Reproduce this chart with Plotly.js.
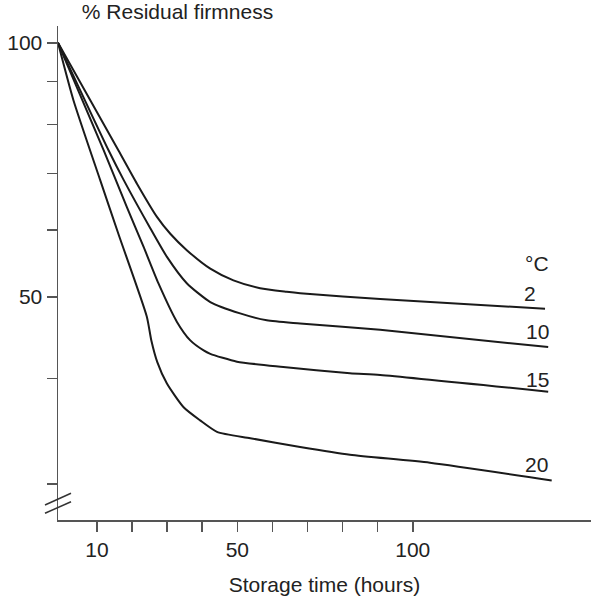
<!DOCTYPE html>
<html><head><meta charset="utf-8">
<script src="https://cdn.plot.ly/plotly-3.0.1.min.js"></script>
<style>html,body{margin:0;padding:0;background:#fff}#chart{width:591px;height:599px}</style>
</head><body><div id="chart"></div>
<script>
// ---- data (storage time in hours, % residual firmness) ----
const seriesLabels = ['2', '10', '15', '20'];
const unitLabel = '°C';

const time2  = [-1.1, 16.1, 21.4, 27.1, 30.9, 35.6, 42.3, 48.9, 56.5, 64.1, 67.9, 90.7, 137.7];
const firm2  = [100, 74.6, 68.1, 62.2, 59.4, 56.8, 54.0, 52.3, 51.2, 50.7, 50.5, 49.7, 48.4];

const time10 = [-1.1, 13.3, 17.6, 25.2, 29.9, 35.6, 42.3, 50.8, 58.4, 67.9, 90.7, 138.6];
const firm10 = [100, 74.6, 68.8, 60.3, 55.8, 51.9, 49.3, 47.8, 46.9, 46.5, 45.7, 43.6];

const time15 = [-1.1, 11.9, 18.5, 23.3, 27.5, 32.8, 36.6, 40.4, 42.3, 49.9, 63.1, 82.1, 90.7, 138.6];
const firm15 = [100, 74.6, 63.9, 57.3, 51.9, 46.7, 44.4, 43.2, 42.8, 41.9, 41.3, 40.6, 40.4, 38.6];

const time20 = [-1.1, 3.3, 10.9, 16.1, 24.2, 25.5, 27.2, 29.9, 34.7, 39.4, 44.2, 53.7, 67.9, 82.1, 104.9, 139.6];
const firm20 = [100, 85.5, 68.8, 59.4, 47.4, 44.4, 41.85, 39.5, 37.0, 35.7, 34.6, 34.0, 33.2, 32.5, 31.8, 30.3];

const xTickVals = [10, 20, 30, 40, 50, 60, 70, 80, 90, 100];
const xTickText = ['10', '', '', '', '50', '', '', '', '', '100'];
const yTickVals = [30, 40, 50, 60, 70, 80, 90, 100];
const yTickText = ['', '', '50', '', '', '', '', '100'];

const xTitle = 'Storage time (hours)';
const yTitle = '% Residual firmness';

// ---- styling ----
const FONT = 'Liberation Sans, Arial, Helvetica, sans-serif';
const TXT = '#222222';
const AX = '#555555';
const LINE = '#1a1a1a';
const FS = 21;

const xs = [time2, time10, time15, time20];
const ys = [firm2, firm10, firm15, firm20];

const traces = xs.map((x, i) => ({
  type: 'scatter', mode: 'lines', x: x, y: ys[i],
  line: {color: LINE, width: 2, shape: 'spline', smoothing: 0.6},
  hoverinfo: 'skip', name: seriesLabels[i] + ' ' + unitLabel
}));

const labelShift = [[-15, 15], [-11, 15.7], [-11, 12.4], [-15, 15.7]];
const annotations = xs.map((x, i) => ({
  xref: 'x', yref: 'y',
  x: x[x.length - 1], y: Math.log10(ys[i][ys[i].length - 1]),
  text: seriesLabels[i], showarrow: false,
  xanchor: 'center', yanchor: 'middle',
  xshift: labelShift[i][0], yshift: labelShift[i][1],
  font: {family: FONT, size: FS, color: TXT}
}));
annotations.push({
  xref: 'x', yref: 'y',
  x: time2[time2.length - 1], y: Math.log10(firm2[firm2.length - 1]),
  text: unitLabel, showarrow: false, xanchor: 'center', yanchor: 'middle',
  xshift: -8.3, yshift: 45,
  font: {family: FONT, size: FS, color: TXT}
});

const breakLine = (y0, y1) => ({
  type: 'line', xref: 'paper', yref: 'paper',
  xsizemode: 'pixel', ysizemode: 'pixel', xanchor: 0, yanchor: 0,
  x0: -13, x1: 13, y0: y0, y1: y1,
  line: {color: '#333333', width: 1.5}
});

const layout = {
  width: 591, height: 599,
  margin: {l: 58, r: 0, t: 26, b: 79, pad: 0},
  paper_bgcolor: '#ffffff', plot_bgcolor: '#ffffff',
  showlegend: false,
  font: {family: FONT, size: FS, color: TXT},
  title: {
    text: yTitle, xref: 'container', yref: 'container',
    x: 177.5 / 591, xanchor: 'center', y: 1 - 11.3 / 599, yanchor: 'middle',
    font: {family: FONT, size: FS, color: TXT}
  },
  xaxis: {
    range: [-1.1, 150.8], showgrid: false, zeroline: false,
    showline: true, linecolor: AX, linewidth: 1.5,
    ticks: 'outside', ticklen: 10, tickwidth: 1.5, tickcolor: AX,
    tickmode: 'array', tickvals: xTickVals, ticktext: xTickText,
    tickfont: {family: FONT, size: FS, color: TXT},
    title: {text: xTitle, font: {family: FONT, size: FS, color: TXT}, standoff: 17},
    automargin: false, fixedrange: true
  },
  yaxis: {
    type: 'log', range: [Math.log10(27.2), Math.log10(104.7)],
    showgrid: false, zeroline: false,
    showline: true, linecolor: AX, linewidth: 1.5,
    ticks: 'outside', ticklen: 10, tickwidth: 1.5, tickcolor: AX,
    tickmode: 'array', tickvals: yTickVals, ticktext: yTickText,
    tickfont: {family: FONT, size: FS, color: TXT},
    automargin: false, fixedrange: true
  },
  shapes: [breakLine(15, 26.7), breakLine(6.7, 18.3)],
  annotations: annotations
};

Plotly.newPlot('chart', traces, layout, {displayModeBar: false, staticPlot: true});
</script>
</body></html>
